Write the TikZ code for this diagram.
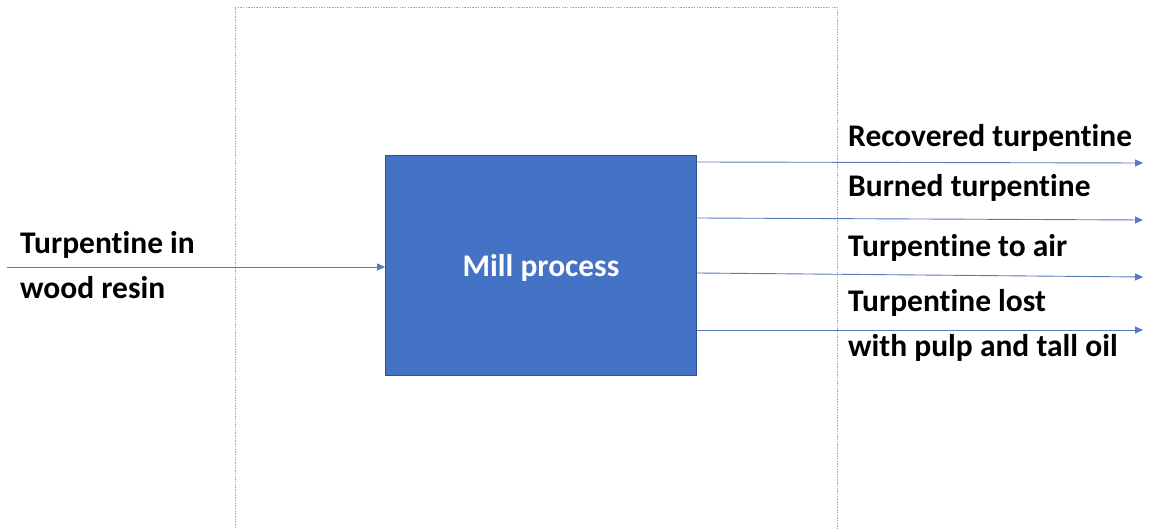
\documentclass[tikz,border=0pt]{standalone}
\usepackage{fontspec}
\setmainfont{Carlito}[Ligatures=NoCommon]
\usetikzlibrary{arrows.meta}
\definecolor{boxblue}{RGB}{68,114,196}
\definecolor{boxedge}{RGB}{47,82,143}
\definecolor{flow}{RGB}{90,120,190}
\definecolor{framegray}{RGB}{165,165,180}
\tikzset{
  lbl/.style={font=\fontsize{31.5}{45.5}\selectfont\bfseries, inner sep=0pt, anchor=base west, align=left},
  flowarrow/.style={draw=flow, line width=0.9pt, -{Triangle[length=8pt,width=7pt]}},
  frameline/.style={draw=framegray, line width=0.9pt, dash pattern=on 1.5pt off 1.2pt},
}
\begin{document}
\begin{tikzpicture}[x=1pt,y=-1pt]
\useasboundingbox (0,0) rectangle (1149,529);
\fill[white] (0,0) rectangle (1149,529);
% frame
\draw[frameline] (235,531) -- (235,7) -- (837,7) -- (837,531);
% process box
\node[fill=boxblue, draw=boxedge, line width=0.8pt, minimum width=311pt, minimum height=220pt, inner sep=0pt] (mill) at (541,265.5) {};
\node[text=white, inner sep=0pt, anchor=base, font=\fontsize{31.5}{38}\selectfont\bfseries] (milllbl) at (541,277) {Mill process};
% input
\coordinate (in) at (7,267);
\draw[flowarrow] (in) -- (mill.west |- in);
\node[lbl] (inlbl) at (20,299) {Turpentine in\\wood resin};
% outputs
\coordinate (s1) at (697,162);  \coordinate (e1) at (1143,163);
\coordinate (s2) at (697,218);  \coordinate (e2) at (1143,220);
\coordinate (s3) at (697,273);  \coordinate (e3) at (1143,277);
\coordinate (s4) at (697,330);  \coordinate (e4) at (1143,330);
\draw[flowarrow] (mill.east |- s1) -- (e1);
\draw[flowarrow] (mill.east |- s2) -- (e2);
\draw[flowarrow] (mill.east |- s3) -- (e3);
\draw[flowarrow] (mill.east |- s4) -- (e4);
\node[lbl] (o1) at (848,147) {Recovered turpentine};
\node[lbl] (o2) at (848,197) {Burned turpentine};
\node[lbl] (o3) at (848,257) {Turpentine to air};
\node[lbl] (o4) at (848,357) {Turpentine lost\\with pulp and tall oil};
\end{tikzpicture}
\end{document}
